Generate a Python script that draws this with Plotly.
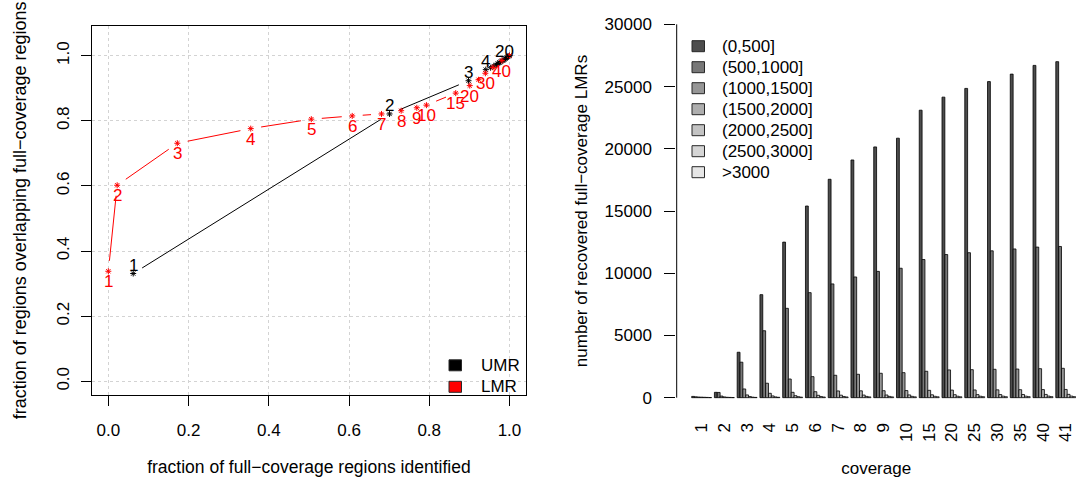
import math
import plotly.graph_objects as go

W, H = 1076, 484
FONT = "Liberation Sans, Arial, sans-serif"
FS = 17
MINUS = "\u2212"

# ---------------- left panel data ----------------
coverage = ["1", "2", "3", "4", "5", "6", "7", "8", "9", "10",
            "15", "20", "25", "30", "35", "40", "41"]

umr_x = [0.062, 0.701, 0.898, 0.941, 0.953, 0.961, 0.967, 0.971, 0.975,
         0.978, 0.984, 0.987, 0.990, 0.993, 0.995, 0.998, 1.000]
umr_y = [0.331, 0.821, 0.923, 0.957, 0.963, 0.968, 0.972, 0.976, 0.979,
         0.981, 0.985, 0.988, 0.991, 0.994, 0.996, 0.998, 1.000]
umr_labels = ["1", "2", "3", "4", "", "", "", "", "", "", "", "20",
              "", "", "", "", ""]

lmr_x = [0.000, 0.022, 0.172, 0.355, 0.506, 0.608, 0.681, 0.730, 0.769,
         0.793, 0.866, 0.901, 0.923, 0.940, 0.959, 0.981, 1.000]
lmr_y = [0.338, 0.602, 0.731, 0.776, 0.805, 0.815, 0.821, 0.831, 0.840,
         0.848, 0.885, 0.908, 0.926, 0.946, 0.964, 0.985, 1.000]
lmr_labels = ["1", "2", "3", "4", "5", "6", "7", "8", "9", "10", "15", "20",
              "", "30", "", "40", ""]

left_ticks = [0.0, 0.2, 0.4, 0.6, 0.8, 1.0]

# ---------------- right panel data ----------------
bin_names = ["(0,500]", "(500,1000]", "(1000,1500]", "(1500,2000]",
             "(2000,2500]", "(2500,3000]", ">3000"]
bin_0_500 = [100, 430, 3650, 8280, 12500, 15400, 17550, 19100, 20150, 20850,
             23100, 24150, 24850, 25400, 26000, 26700, 27000]
bin_500_1000 = [70, 420, 2850, 5380, 7180, 8440, 9140, 9700, 10150, 10400,
                11100, 11500, 11650, 11800, 11950, 12100, 12150]
bin_1000_1500 = [50, 130, 700, 1160, 1500, 1690, 1800, 1880, 1960, 2010,
                 2120, 2230, 2250, 2280, 2300, 2330, 2360]
bin_1500_2000 = [40, 60, 220, 350, 430, 480, 540, 550, 560, 570,
                 590, 610, 620, 630, 640, 650, 660]
bin_2000_2500 = [30, 30, 90, 140, 160, 190, 200, 210, 215, 220,
                 230, 240, 245, 250, 255, 260, 265]
bin_2500_3000 = [20, 20, 40, 60, 80, 90, 95, 100, 100, 105,
                 110, 115, 115, 120, 120, 125, 125]
bin_gt_3000 = [10, 10, 20, 30, 40, 50, 55, 60, 60, 65,
               70, 70, 75, 75, 80, 80, 80]
bar_series = [bin_0_500, bin_500_1000, bin_1000_1500, bin_1500_2000,
              bin_2000_2500, bin_2500_3000, bin_gt_3000]
right_yticks = [0, 5000, 10000, 15000, 20000, 25000, 30000]

# ---------------- styling / layout ----------------
gray_levels = [77, 120, 150, 174, 195, 213, 230]
bin_colors = ["rgb(%d,%d,%d)" % (g, g, g) for g in gray_levels]

# plot regions in pixels
L_X0, L_X1, L_Y0, L_Y1 = 92.3, 525.5, 25.7, 395.0
R_X0, R_X1, R_Y0, R_Y1 = 676.3, 1076.0, 9.4, 412.6
LX = [-0.04, 1.04]
LY = [-0.042, 1.092]
n_groups = len(coverage)
n_bins = len(bin_names)
group_w = n_bins + 1
RX = [-4.4, 136.1]
RY = [-1200, 31200]


def fx(px):
    return px / W


def fy(py):
    return 1 - py / H


def gapped(xs, ys, sx, sy, gap):
    gx, gy = [], []
    for i in range(len(xs) - 1):
        ddx, ddy = xs[i + 1] - xs[i], ys[i + 1] - ys[i]
        d = math.hypot(ddx * sx, ddy * sy)
        if d <= 2 * gap:
            continue
        f = gap / d
        gx += [xs[i] + ddx * f, xs[i + 1] - ddx * f, None]
        gy += [ys[i] + ddy * f, ys[i + 1] - ddy * f, None]
    return gx, gy


sx = (L_X1 - L_X0) / (LX[1] - LX[0])
sy = (L_Y1 - L_Y0) / (LY[1] - LY[0])

fig = go.Figure()
annotations = []
shapes = []

for xs, ys, labels, col, yshift in [
        (umr_x, umr_y, umr_labels, "black", 8.5),
        (lmr_x, lmr_y, lmr_labels, "red", -10.5)]:
    gx, gy = gapped(xs, ys, sx, sy, 10.5)
    fig.add_trace(go.Scatter(x=gx, y=gy, mode="lines",
                             line=dict(color=col, width=1),
                             xaxis="x", yaxis="y", showlegend=False,
                             hoverinfo="skip"))
    fig.add_trace(go.Scatter(x=xs, y=ys, mode="markers",
                             marker=dict(symbol="asterisk-open", size=5,
                                         color=col,
                                         line=dict(color=col, width=1)),
                             xaxis="x", yaxis="y", showlegend=False))
    for x, y, lab in zip(xs, ys, labels):
        if lab:
            annotations.append(dict(xref="x", yref="y", x=x, y=y, text=lab,
                                    showarrow=False, xanchor="center",
                                    yanchor="middle", yshift=yshift,
                                    font=dict(family=FONT, size=FS, color=col)))

# bars
for s, vals in enumerate(bar_series):
    xs = [1 + group_w * g + s + 0.5 for g in range(n_groups)]
    fig.add_trace(go.Bar(x=xs, y=vals, width=1, name=bin_names[s],
                         marker=dict(color=bin_colors[s],
                                     line=dict(color="black", width=0.8)),
                         xaxis="x2", yaxis="y2", showlegend=False))

group_centers = [1 + group_w * g + n_bins / 2 for g in range(n_groups)]

axis_font = dict(family=FONT, size=FS, color="black")
left_xtitle_font = dict(family=FONT, size=17.5, color="black")
left_ytitle_font = dict(family=FONT, size=18, color="black")

# right axis line (spans tick range only, as in R)
shapes.append(dict(type="line", xref="paper", yref="y2",
                   x0=fx(R_X0 + 0.4), x1=fx(R_X0 + 0.4),
                   y0=right_yticks[0], y1=right_yticks[-1],
                   line=dict(color="black", width=1)))

# right legend
for i, name in enumerate(bin_names):
    cy = 46.2 + 21 * i
    shapes.append(dict(type="rect", xref="paper", yref="paper",
                       x0=fx(692), x1=fx(704.5), y0=fy(cy + 5.5), y1=fy(cy - 5.5),
                       fillcolor=bin_colors[i],
                       line=dict(color="rgb(40,40,40)", width=1)))
    annotations.append(dict(xref="paper", yref="paper", x=fx(720), y=fy(cy),
                            text=name, showarrow=False, xanchor="left",
                            yanchor="middle", font=axis_font))

# left legend
for i, (name, col) in enumerate([("UMR", "black"), ("LMR", "red")]):
    cy = 365.3 + 21.5 * i
    shapes.append(dict(type="rect", xref="paper", yref="paper",
                       x0=fx(449), x1=fx(461.5), y0=fy(cy + 5.5), y1=fy(cy - 5.5),
                       fillcolor=col, line=dict(color="rgb(40,40,40)", width=1)))
    annotations.append(dict(xref="paper", yref="paper", x=fx(478.5), y=fy(cy),
                            text=name, showarrow=False, xanchor="left",
                            yanchor="middle", font=axis_font))

fig.update_layout(
    template="none",
    width=W, height=H,
    margin=dict(l=0, r=0, t=0, b=0),
    paper_bgcolor="white", plot_bgcolor="white",
    font=axis_font,
    barmode="overlay",
    showlegend=False,
    shapes=shapes,
    annotations=annotations,
    xaxis=dict(domain=[fx(L_X0), fx(L_X1)], range=LX, anchor="y",
               tickvals=left_ticks, ticktext=["%.1f" % t for t in left_ticks],
               ticks="outside", ticklen=10, tickwidth=1, tickcolor="black",
               ticklabelstandoff=10,
               showline=True, mirror=True, linecolor="black", linewidth=1,
               showgrid=True, gridcolor="#D3D3D3", griddash="dot", gridwidth=1,
               zeroline=False, tickfont=axis_font, automargin=False,
               title=dict(text="fraction of full" + MINUS + "coverage regions identified",
                          font=left_xtitle_font, standoff=21)),
    yaxis=dict(domain=[fy(L_Y1), fy(L_Y0)], range=LY, anchor="x",
               tickvals=left_ticks, ticktext=["%.1f" % t for t in left_ticks],
               tickangle=-90,
               ticks="outside", ticklen=10, tickwidth=1, tickcolor="black",
               ticklabelstandoff=6,
               showline=True, mirror=True, linecolor="black", linewidth=1,
               showgrid=True, gridcolor="#D3D3D3", griddash="dot", gridwidth=1,
               zeroline=False, tickfont=axis_font, automargin=False,
               title=dict(text="fraction of regions overlapping full" + MINUS + "coverage regions",
                          font=left_ytitle_font, standoff=22)),
    xaxis2=dict(domain=[fx(R_X0), fx(R_X1)], range=RX, anchor="y2",
                tickvals=group_centers, ticktext=coverage, tickangle=-90,
                ticks="", ticklabelstandoff=6,
                showline=False, showgrid=False, zeroline=False,
                tickfont=axis_font, automargin=False,
                title=dict(text="coverage", font=axis_font, standoff=21)),
    yaxis2=dict(domain=[fy(R_Y1), fy(R_Y0)], range=RY, anchor="x2",
                tickvals=right_yticks, ticktext=[str(t) for t in right_yticks],
                ticks="outside", ticklen=11, tickwidth=1, tickcolor="black",
                ticklabelstandoff=9,
                showline=False, showgrid=False, zeroline=False,
                tickfont=axis_font, automargin=False,
                title=dict(text="number of recovered full" + MINUS + "coverage LMRs",
                           font=axis_font, standoff=12)),
)

fig.write_html("out.html",
               config={"displayModeBar": False},
               post_script="document.body.style.margin='0px';"
                           "document.body.style.overflow='hidden';")
